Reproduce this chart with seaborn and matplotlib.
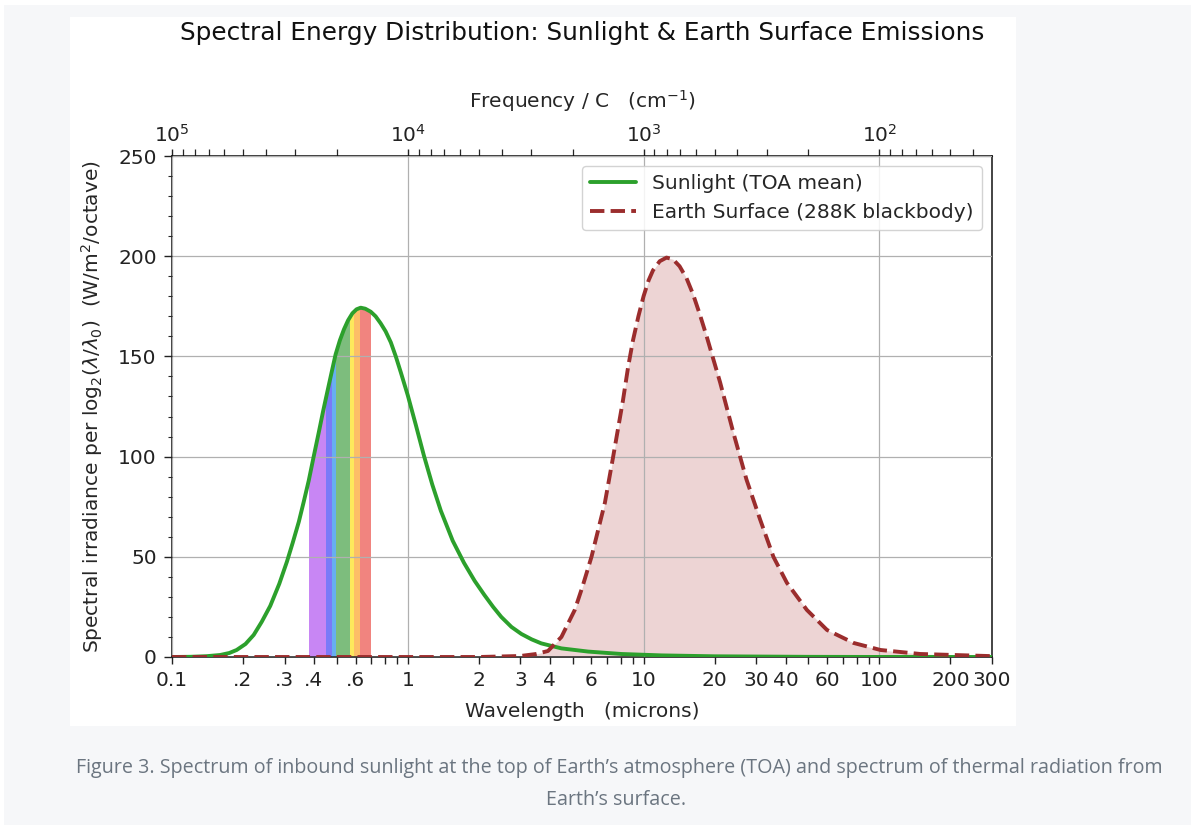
import numpy as np
import matplotlib
matplotlib.use("Agg")
import matplotlib.pyplot as plt
import seaborn as sns
from matplotlib.patches import Rectangle
from matplotlib.ticker import MultipleLocator

# sunlight at top of atmosphere (microns, W/m2/octave)
sun_wl = [0.10, 0.12, 0.14, 0.16, 0.175, 0.188, 0.205, 0.222, 0.24, 0.261,
          0.285, 0.307, 0.325, 0.345, 0.362, 0.380, 0.398, 0.419, 0.437, 0.455,
          0.475, 0.494, 0.515, 0.536, 0.558, 0.582, 0.606, 0.631, 0.66, 0.696,
          0.73, 0.767, 0.805, 0.847, 0.889, 0.934, 1.0, 1.08, 1.17, 1.27,
          1.38, 1.55, 1.73, 1.92, 2.11, 2.30, 2.49, 2.75, 3.03, 3.35,
          3.68, 4.48, 5.82, 8.05, 11.9, 20, 50, 100, 300]
sun_irr = [0.0, 0.1, 0.4, 1.0, 2.0, 3.5, 6.5, 11, 17.5, 25.5,
           36.5, 47.5, 57, 67.5, 77.5, 88, 99.5, 112, 122.5, 132,
           142, 151, 158, 163.5, 168, 171.5, 173.5, 174.3, 173.8, 172.3,
           170, 166.5, 162.5, 157, 150, 142, 130.5, 116, 100.5, 86,
           73, 58, 47, 38, 31, 25, 20, 15, 11.5, 8.8,
           6.8, 4.3, 2.7, 1.5, 0.8, 0.35, 0.08, 0.02, 0.0]

# earth surface 288K blackbody
earth_wl = [0.10, 2.0, 3.0, 3.5, 3.93, 4.48, 5.1, 5.5, 6.01, 6.85,
            7.4, 8.17, 8.6, 9.01, 9.5, 9.99, 10.5, 10.96, 11.7, 12.5,
            13.3, 14.2, 15.2, 16.2, 17.3, 18.5, 21.1, 24.0, 27.3, 31.2,
            35.5, 40.5, 49.2, 59.9, 77.7, 101, 149, 287, 300]
earth_irr = [0.0, 0.0, 0.5, 1.5, 3.0, 10, 23.4, 35, 50, 77,
             99, 128, 145, 158, 170, 180, 188, 193, 197.5, 199.3,
             198.5, 195, 189, 181, 171, 160, 137, 112, 88.5, 68.5,
             50, 37, 23.5, 13.5, 7, 3.5, 1.5, 0.5, 0.45]

# visible bands (micron edges)
band_edges = [0.38, 0.45, 0.475, 0.495, 0.57, 0.59, 0.625, 0.70]
band_colors = ['#c47cf4', '#6f6ff8', '#5aa8f0', '#72b872', '#fde84e', '#fdb95a', '#f07a74']

xtick_vals = [0.1, 0.2, 0.3, 0.4, 0.6, 1, 2, 3, 4, 6, 10, 20, 30, 40, 60, 100, 200, 300]
xtick_labels = ['0.1', '.2', '.3', '.4', '.6', '1', '2', '3', '4', '6', '10',
                '20', '30', '40', '60', '100', '200', '300']

freq_major = [1e5, 1e4, 1e3, 1e2]
freq_labels = ['$10^5$', '$10^4$', '$10^3$', '$10^2$']

caption = ["Figure 3. Spectrum of inbound sunlight at the top of Earth\u2019s atmosphere (TOA) and spectrum of thermal radiation from",
           "Earth\u2019s surface."]

sns.set_style("ticks")
plt.rcParams['font.family'] = ['DejaVu Sans']

W, H = 1191, 825
fig = plt.figure(figsize=(W / 100, H / 100), dpi=100)
fig.patch.set_facecolor('#f6f7f9')
fig.add_artist(Rectangle((0, 0), 4 / W, 1, transform=fig.transFigure, fc='white', ec='none', zorder=0))
fig.add_artist(Rectangle((0, 1 - 5 / H), 1, 5 / H, transform=fig.transFigure, fc='white', ec='none', zorder=0))
fig.add_artist(Rectangle((70 / W, 1 - 726 / H), (1016 - 70) / W, (726 - 17) / H,
                         transform=fig.transFigure, fc='white', ec='none', zorder=0))

ax = fig.add_axes([172 / W, 1 - 657 / H, (992 - 172) / W, (657 - 156) / H])
ax.set_xscale('log')
ax.set_xlim(0.1, 300)
ax.set_ylim(0, 250)

# earth fill
ax.fill_between(earth_wl, earth_irr, 0, color='#a52a2a', alpha=0.2, lw=0, zorder=1)

# rainbow bands clipped below the sunlight curve
clip = ax.fill_between(sun_wl, sun_irr, 0, color='none', lw=0)
clip_path = clip.get_paths()[0]
for lo, hi, c in zip(band_edges[:-1], band_edges[1:], band_colors):
    span = ax.axvspan(lo, hi, color=c, alpha=0.92, lw=0, zorder=1)
    span.set_clip_path(clip_path, ax.transData)

sns.lineplot(x=sun_wl, y=sun_irr, color='#2ca02c', lw=2.8, ax=ax,
             label='Sunlight (TOA mean)', zorder=3)
sns.lineplot(x=earth_wl, y=earth_irr, color='#9b2d2d', lw=2.8, ax=ax,
             label='Earth Surface (288K blackbody)', zorder=4)
ax.lines[-1].set_linestyle('--')

ax.grid(True, which='major', color='#b0b0b0', lw=0.9, zorder=0)
ax.set_axisbelow(False)

# bottom ticks: decades are major (with grid), the rest minor
ax.set_xticks([0.1, 1, 10, 100], ['0.1', '1', '10', '100'])
minor_pos = [m * d for d in [0.1, 1, 10, 100] for m in range(2, 10) if m * d <= 300]
minor_lab = []
for v in minor_pos:
    lab = ''
    for t, l in zip(xtick_vals, xtick_labels):
        if abs(v - t) < 1e-9:
            lab = l
    minor_lab.append(lab)
ax.set_xticks(minor_pos, minor_lab, minor=True)
ax.tick_params(axis='x', which='both', direction='out', length=5, width=1,
               labelsize=14.5, colors='#222222', pad=5)

ax.yaxis.set_major_locator(MultipleLocator(50))
ax.yaxis.set_minor_locator(MultipleLocator(10))
ax.tick_params(axis='y', which='major', direction='out', length=6, width=1,
               labelsize=14.5, pad=5, colors='#222222')
ax.tick_params(axis='y', which='minor', direction='out', length=3, width=0.8)
for s in ax.spines.values():
    s.set_color('#111111')
    s.set_linewidth(1.1)


def to_freq(x):
    x = np.array(x, dtype=float)
    out = np.full_like(x, np.inf)
    ok = x > 0
    out[ok] = 1e4 / x[ok]
    return out


top = ax.secondary_xaxis('top', functions=(to_freq, to_freq))
top.set_xticks(freq_major, freq_labels)
freq_minor = [m * d for d in [10, 100, 1000, 10000] for m in range(2, 10) if 1e4 / 300 <= m * d <= 1e5]
top.set_xticks(freq_minor, [''] * len(freq_minor), minor=True)
top.tick_params(which='major', direction='out', length=5, width=1, labelsize=14.5,
                pad=2, colors='#222222')
top.tick_params(which='minor', direction='out', length=5, width=0.9)
top.set_xlabel('Frequency / C   (cm$^{-1}$)', fontsize=14.5, labelpad=12)

ax.set_xlabel('Wavelength   (microns)', fontsize=14.5, labelpad=8.5)
ax.set_ylabel(r'Spectral irradiance per log$_2$($\lambda/\lambda_0$)  (W/m$^2$/octave)',
              fontsize=14.5, labelpad=9.5)

ax.legend(loc='upper right', fontsize=14.5, frameon=True, framealpha=0.85,
          edgecolor='#cccccc', handlelength=2.3, borderaxespad=0.5)

fig.text(582 / W, 1 - 33 / H, 'Spectral Energy Distribution: Sunlight & Earth Surface Emissions',
         ha='center', va='center', fontsize=17.8, color='#111111')

fig.text(619 / W, 1 - 768 / H, caption[0], ha='center', va='center', fontsize=14.2,
         color='#6b7580', family='Open Sans')
fig.text(616 / W, 1 - 800 / H, caption[1], ha='center', va='center', fontsize=14.2,
         color='#6b7580', family='Open Sans')

fig.savefig('out.png', dpi=100, facecolor=fig.get_facecolor())
